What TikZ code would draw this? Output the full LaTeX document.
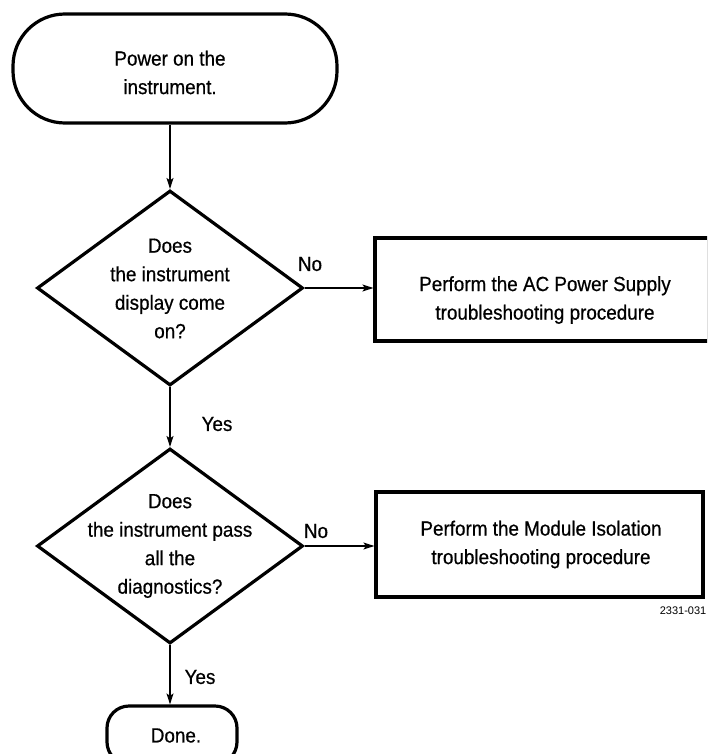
\documentclass[tikz,border=0pt]{standalone}
\usepackage{fontspec}
\setmainfont[FakeStretch=0.92,FakeBold=0.6]{Liberation Sans}
\newfontfamily\plainsans{Liberation Sans}
\usetikzlibrary{shapes.geometric,arrows.meta}
\begin{document}
\begin{tikzpicture}[x=1pt,y=-1pt,
  shp/.style={draw, line width=3.2pt, inner sep=0pt},
  term/.style={shp, rectangle},
  dec/.style={shp, diamond, minimum width=266pt, minimum height=195pt},
  proc/.style={shp, rectangle},
  txt/.style={align=center, font=\fontsize{20.5}{28.5}\selectfont, inner sep=0pt},
  conn/.style={line width=1.2pt, -{Stealth[length=11pt,width=7pt,inset=2.5pt]}},
  lbl/.style={font=\fontsize{20.5}{22}\selectfont, inner sep=0pt}
]
\useasboundingbox (0,0) rectangle (707,754);
\clip (0,0) rectangle (707,754);

% shapes
\node[term, minimum width=324pt, minimum height=109pt, rounded corners=52pt] (start) at (175,68.5) {};
\node[dec] (d1) at (170,288) {};
\node[proc, minimum width=334pt, minimum height=103pt] (b1) at (542,289.5) {};
\node[dec] (d2) at (170,546) {};
\node[proc, minimum width=327pt, minimum height=105pt] (b2) at (539.5,544.5) {};
\node[shp, rectangle, rounded corners=22pt, minimum width=130pt, minimum height=58pt] (done) at (172,735) {};

% texts
\node[txt] (startt) at (170,72.5) {Power on the\\instrument.};
\node[txt] (d1t) at (170,288.5) {Does\\the instrument\\display come\\on?};
\node[txt] (b1t) at (545,300) {Perform the AC Power Supply\\troubleshooting procedure};
\node[txt] (d2t) at (170,546) {Does\\the instrument pass\\all the\\diagnostics?};
\node[txt] (b2t) at (541,544.5) {Perform the Module Isolation\\troubleshooting procedure};
\node[txt] (donet) at (176,735.5) {Done.};

% connectors
\draw[conn] (start.south -| d1.north) -- (d1.north);
\draw[conn] (d1.east) -- (d1.east -| b1.west);
\draw[conn] (d1.south) -- (d2.north);
\draw[conn] (d2.east) -- (d2.east -| b2.west);
\draw[conn] (d2.south) -- (done.north -| d2.south);

% labels
\node[lbl] (no1) at (310,264) {No};
\node[lbl] (yes1) at (217,424) {Yes};
\node[lbl] (no2) at (316,531) {No};
\node[lbl] (yes2) at (200,677) {Yes};
\node[font=\plainsans\fontsize{11}{13}\selectfont, anchor=east, inner sep=0pt] (fig) at (706.5,611) {2331-031};
\end{tikzpicture}
\end{document}
